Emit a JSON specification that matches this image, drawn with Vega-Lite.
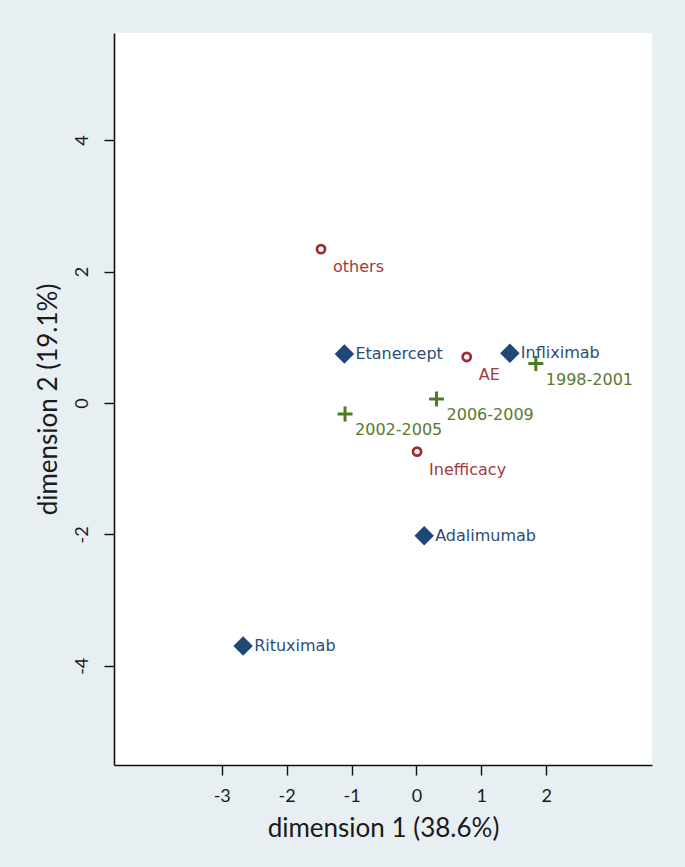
{
  "$schema": "https://vega.github.io/schema/vega-lite/v6.json",
  "autosize": {"type": "none"},
  "padding": {"left": 114, "top": 33, "right": 33, "bottom": 102},
  "width": 538,
  "height": 732,
  "background": "#e8eff2",
  "config": {
    "view": {"fill": "white", "stroke": null},
    "axis": {
      "domainColor": "#111111",
      "domainWidth": 1.6,
      "tickColor": "#111111",
      "tickWidth": 1.4,
      "tickSize": 10,
      "grid": false,
      "labelFont": "Lato",
      "labelFontSize": 18,
      "labelColor": "#1a1a1a",
      "labelExpr": "datum.value + ''",
      "titleFont": "Lato",
      "titleFontSize": 26,
      "titleFontWeight": "normal",
      "titleColor": "#1a1a1a"
    }
  },
  "data": {
    "values": [
      {"label": "Etanercept", "group": "drug", "x": -1.11, "y": 0.745},
      {"label": "Infliximab", "group": "drug", "x": 1.44, "y": 0.756},
      {"label": "Adalimumab", "group": "drug", "x": 0.12, "y": -2.02},
      {"label": "Rituximab", "group": "drug", "x": -2.67, "y": -3.70},
      {"label": "others", "group": "reason", "x": -1.47, "y": 2.34},
      {"label": "AE", "group": "reason", "x": 0.775, "y": 0.70},
      {"label": "Inefficacy", "group": "reason", "x": 0.01, "y": -0.74},
      {"label": "1998-2001", "group": "period", "x": 1.84, "y": 0.60},
      {"label": "2002-2005", "group": "period", "x": -1.10, "y": -0.17},
      {"label": "2006-2009", "group": "period", "x": 0.31, "y": 0.06}
    ]
  },
  "encoding": {
    "x": {
      "field": "x", "type": "quantitative",
      "scale": {"domain": [-4.66, 3.63], "nice": false, "zero": false},
      "axis": {"values": [-3, -2, -1, 0, 1, 2], "title": "dimension 1 (38.6%)", "labelPadding": 12, "titlePadding": 10}
    },
    "y": {
      "field": "y", "type": "quantitative",
      "scale": {"domain": [-5.51, 5.63], "nice": false, "zero": false},
      "axis": {"values": [-4, -2, 0, 2, 4], "title": "dimension 2 (19.1%)", "labelAngle": 270, "labelAlign": "center", "labelBaseline": "bottom", "labelPadding": 13, "titlePadding": 12}
    }
  },
  "layer": [
    {
      "transform": [{"filter": "datum.group === 'drug'"}],
      "mark": {"type": "point", "shape": "diamond", "filled": true, "size": 380, "color": "#1f4878", "opacity": 1}
    },
    {
      "transform": [{"filter": "datum.group === 'reason'"}],
      "mark": {"type": "point", "shape": "circle", "filled": false, "size": 65, "strokeWidth": 2.8, "color": "#a02b30", "opacity": 1}
    },
    {
      "transform": [{"filter": "datum.group === 'period'"}],
      "mark": {"type": "point", "shape": "M-1,0H1M0,-1V1", "filled": false, "size": 225, "strokeWidth": 3, "color": "#4e7a25", "opacity": 1}
    },
    {
      "transform": [{"filter": "datum.group === 'drug'"}],
      "mark": {"type": "text", "align": "left", "baseline": "middle", "dx": 11, "dy": 0, "font": "DejaVu Sans", "fontSize": 16, "color": "#2b4d78"},
      "encoding": {"text": {"field": "label"}}
    },
    {
      "transform": [{"filter": "datum.group === 'reason'"}],
      "mark": {"type": "text", "align": "left", "baseline": "middle", "dx": 12, "dy": 18, "font": "DejaVu Sans", "fontSize": 16, "color": "#a33a3e"},
      "encoding": {"text": {"field": "label"}}
    },
    {
      "transform": [{"filter": "datum.group === 'period'"}],
      "mark": {"type": "text", "align": "left", "baseline": "middle", "dx": 10, "dy": 16, "font": "DejaVu Sans", "fontSize": 16, "color": "#577a2e"},
      "encoding": {"text": {"field": "label"}}
    }
  ]
}
